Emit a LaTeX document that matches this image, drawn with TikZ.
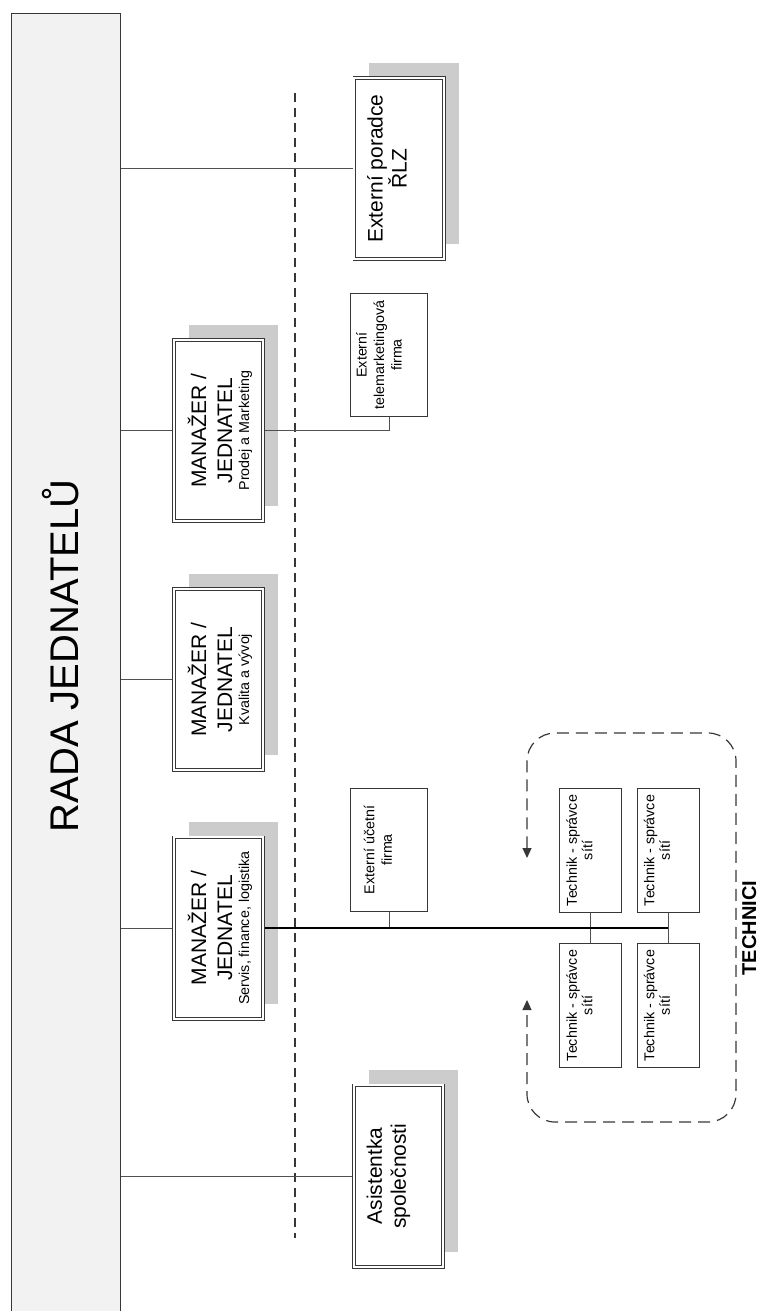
\documentclass[tikz,border=0pt]{standalone}
\usepackage{fontspec}
\setmainfont{Liberation Sans}
\usetikzlibrary{shadows,arrows.meta}
\definecolor{boxline}{RGB}{55,55,55}
\definecolor{shadowc}{RGB}{204,204,204}
\definecolor{radafill}{RGB}{242,242,242}
\definecolor{conn}{RGB}{80,80,80}
\newcommand{\fbig}{\fontsize{21}{26}\selectfont}
\newcommand{\fmid}{\fontsize{21}{24}\selectfont}
\newcommand{\fsmall}{\fontsize{14.3}{17.5}\selectfont}
\begin{document}
\begin{tikzpicture}[x=1pt,y=-1pt,
  bigbox/.style={draw=boxline, line width=0.8pt, double=white, double distance=2pt,
    fill=white, minimum width=89.4pt, minimum height=181.4pt, inner sep=0pt, outer sep=1.8pt,
    drop shadow={shadow xshift=15pt, shadow yshift=15pt, fill=shadowc, opacity=1}},
  smallbox/.style={draw=boxline, line width=0.9pt, fill=white,
    minimum width=77.2pt, minimum height=123.2pt, inner sep=0pt},
  techbox/.style={draw=boxline, line width=0.9pt, fill=white,
    minimum width=62pt, minimum height=124.2pt, inner sep=0pt},
  lbl/.style={rotate=90, align=center, inner sep=0pt},
  conn/.style={draw=conn, line width=1pt},
  bus/.style={draw=black, line width=1.7pt},
  divider/.style={draw=boxline, line width=1.2pt, dash pattern=on 9pt off 6pt},
  grp/.style={draw=boxline, line width=1.2pt, dash pattern=on 12pt off 7pt, rounded corners=28pt}
]
\useasboundingbox (0,0) rectangle (758,1311);
\clip (0,0) rectangle (758,1311);

% board
\node[draw=boxline, fill=radafill, line width=1pt, minimum width=109pt, minimum height=1320pt,
  inner sep=0pt, anchor=north west] (rada) at (11,13) {};
\node[rotate=90, anchor=base, inner sep=0pt, font=\fontsize{40}{40}\selectfont] (title) at (78,656) {RADA JEDNATELŮ};

% divider
\coordinate (dtop) at (295,93);
\coordinate (dbot) at (295,1238);
\draw[divider] (dtop) -- (dbot);

% main boxes
\node[bigbox] (poradce) at (399,168.5) {};
\node[lbl, font=\fmid] (poradce-t) at ([xshift=-12pt]poradce.center) {Externí poradce\\ŘLZ};

\node[bigbox] (prodej) at (218.5,430.5) {};
\node[lbl, font=\fbig] (prodej-t) at ([xshift=1.5pt]prodej.center) {MANAŽER /\\JEDNATEL\\[-9pt]{\fsmall Prodej a Marketing}};

\node[bigbox] (kvalita) at (218.5,679.5) {};
\node[lbl, font=\fbig] (kvalita-t) at ([xshift=1.5pt]kvalita.center) {MANAŽER /\\JEDNATEL\\[-9pt]{\fsmall Kvalita a vývoj}};

\node[bigbox] (servis) at (218.5,928) {};
\node[lbl, font=\fbig] (servis-t) at ([xshift=1.5pt]servis.center) {MANAŽER /\\JEDNATEL\\[-9pt]{\fsmall Servis, finance, logistika}};

\node[bigbox] (asist) at (398.5,1176) {};
\node[lbl, font=\fmid] (asist-t) at ([xshift=-10pt]asist.center) {Asistentka\\společnosti};

% small boxes
\node[smallbox] (telem) at (389,355) {};
\node[lbl, font=\fsmall] (telem-t) at ([xshift=-10pt]telem.center) {Externí\\telemarketingová\\firma};

\node[smallbox] (ucetni) at (389,850) {};
\node[lbl, font=\fsmall] (ucetni-t) at ([xshift=-11pt]ucetni.center) {Externí účetní\\firma};

\node[techbox] (tech1) at (590.5,850.5) {};
\node[techbox] (tech2) at (668,850.5) {};
\node[techbox] (tech3) at (590.5,1005.5) {};
\node[techbox] (tech4) at (668,1005.5) {};
\foreach \t in {tech1,tech2,tech3,tech4}{
  \node[lbl, font=\fontsize{14.3}{15.5}\selectfont] (\t-t) at ([xshift=-11pt]\t.center) {Technik - správce\\sítí};
}

% connectors
\draw[conn] (rada.east |- poradce.west) -- (poradce.west);
\draw[conn] (rada.east |- prodej.west) -- (prodej.west);
\draw[conn] (prodej.east) -| (telem.south);
\draw[conn] (rada.east |- kvalita.west) -- (kvalita.west);
\draw[conn] (rada.east |- servis.west) -- (servis.west);
\draw[conn] (rada.east |- asist.west) -- (asist.west);
\draw[conn] (ucetni.south) -- (ucetni.south |- servis.east);
\draw[conn] (tech1.south) -- (tech3.north);
\draw[conn] (tech2.south) -- (tech4.north);
\draw[bus] (servis.east) -- (tech2.south |- servis.east);

% technici group
\coordinate (g1) at (527,858);
\coordinate (g2) at (527,1000);
\coordinate (gtl) at (527,733);
\coordinate (gtr) at (736,733);
\coordinate (gbr) at (736,1122);
\coordinate (gbl) at (527,1122);
\draw[grp, {Triangle[length=10pt,width=9pt]}-{Triangle[length=10pt,width=9pt]}]
  (g1) -- (gtl) -- (gtr) -- (gbr) -- (gbl) -- (g2);
\node[rotate=90, anchor=base, inner sep=0pt, font=\bfseries\fontsize{20}{20}\selectfont] (technici) at (756,928) {TECHNICI};
\end{tikzpicture}
\end{document}
